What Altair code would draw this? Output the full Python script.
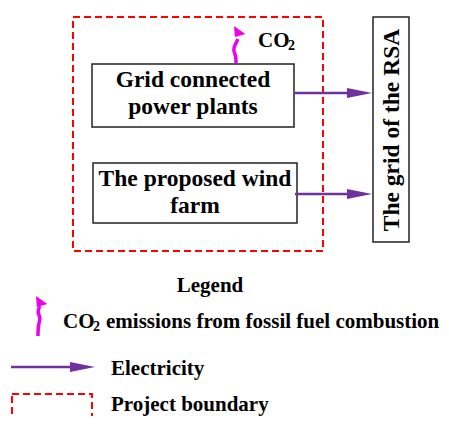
import altair as alt
import pandas as pd

# ---- diagram layout (reference pixel coordinates) ----
# dashed project-boundary rectangles
bnd_x = [73, 12]
bnd_x2 = [323, 92]
bnd_y = [17, 394]
bnd_y2 = [251, 445]

# solid boxes: power plants, wind farm, RSA grid
box_x = [92, 93, 373]
box_x2 = [294, 297, 409]
box_y = [64, 163, 17]
box_y2 = [127, 223, 242]

# electricity arrows (shaft) and heads
arr_x = [295, 295, 11]
arr_x2 = [350, 350, 72]
arr_y = [93, 194, 367]
head_x = [359.5, 359.5, 82.5]
head_y = [93, 194, 367]

# CO2 squiggles
sq_g = ["a"] * 5 + ["b"] * 5
sq_o = [0, 1, 2, 3, 4] * 2
sq_x = [236, 236, 233, 235, 238, 38, 38, 41, 37, 40]
sq_y = [63, 56, 50, 45, 39, 336, 325, 318, 312, 306]
sqh_x = [240, 42]
sqh_y = [32, 302]

# texts
big_text = ["Grid connected", "power plants", "The proposed wind", "farm"]
big_x = [193, 193, 195, 195]
big_y = [87, 114, 186, 213]

left_text = ["CO", "CO", "emissions from fossil fuel combustion", "Electricity", "Project boundary"]
left_x = [258, 63, 106, 111, 111]
left_y = [47, 328, 328, 375, 411]
sub_text = ["2", "2"]
sub_x = [288, 93]
sub_y = [50, 331]

rsa_text = ["The grid of the RSA"]
rsa_x = [399]
rsa_y = [130]

legend_text = ["Legend"]
legend_x = [210]
legend_y = [292]

FONT = "Liberation Serif"
PURPLE = "#7030A0"
MAGENTA = "#EE00EE"

xs = alt.Scale(domain=[8, 449], nice=False, zero=False)
ys = alt.Scale(domain=[8, 424], nice=False, zero=False, reverse=True)
X = lambda f: alt.X(f, type="quantitative", scale=xs, axis=None)
Y = lambda f: alt.Y(f, type="quantitative", scale=ys, axis=None)

bnd = pd.DataFrame({"x": bnd_x, "x2": bnd_x2, "y": bnd_y, "y2": bnd_y2})
box = pd.DataFrame({"x": box_x, "x2": box_x2, "y": box_y, "y2": box_y2})
arr = pd.DataFrame({"x": arr_x, "x2": arr_x2, "y": arr_y})
head = pd.DataFrame({"x": head_x, "y": head_y})
sq = pd.DataFrame({"g": sq_g, "o": sq_o, "x": sq_x, "y": sq_y})
sqh = pd.DataFrame({"x": sqh_x, "y": sqh_y})
big = pd.DataFrame({"t": big_text, "x": big_x, "y": big_y})
left = pd.DataFrame({"t": left_text, "x": left_x, "y": left_y})
sub = pd.DataFrame({"t": sub_text, "x": sub_x, "y": sub_y})
rsa = pd.DataFrame({"t": rsa_text, "x": rsa_x, "y": rsa_y})
leg = pd.DataFrame({"t": legend_text, "x": legend_x, "y": legend_y})

boundary = alt.Chart(bnd).mark_rect(
    fill="white", fillOpacity=0, stroke="#FF0000", strokeWidth=2, strokeDash=[7, 4]
).encode(x=X("x"), x2="x2", y=Y("y"), y2="y2")

boxes = alt.Chart(box).mark_rect(
    fill="white", stroke="#222222", strokeWidth=1.5
).encode(x=X("x"), x2="x2", y=Y("y"), y2="y2")

shafts = alt.Chart(arr).mark_rule(color=PURPLE, strokeWidth=2.5).encode(
    x=X("x"), x2="x2", y=Y("y")
)
heads = alt.Chart(head).mark_point(
    shape="M -1 -0.4 L 1 0 L -1 0.4 Z", filled=True, color=PURPLE, opacity=1, size=625
).encode(x=X("x"), y=Y("y"))

squig = alt.Chart(sq).mark_line(
    color=MAGENTA, strokeWidth=3.5, interpolate="basis"
).encode(x=X("x"), y=Y("y"), detail="g:N", order="o:Q")
squig_head = alt.Chart(sqh).mark_point(
    shape="M -1 -1 L 0.9 0.35 L -0.85 0.85 Z", filled=True, color=MAGENTA, opacity=1, size=144
).encode(x=X("x"), y=Y("y"))

big_t = alt.Chart(big).mark_text(
    font=FONT, fontWeight="bold", fontSize=23.5, align="center", baseline="alphabetic", color="black"
).encode(x=X("x"), y=Y("y"), text="t:N")

left_t = alt.Chart(left).mark_text(
    font=FONT, fontWeight="bold", fontSize=21, align="left", baseline="alphabetic", color="black"
).encode(x=X("x"), y=Y("y"), text="t:N")

sub_t = alt.Chart(sub).mark_text(
    font=FONT, fontWeight="bold", fontSize=14, align="left", baseline="alphabetic", color="black"
).encode(x=X("x"), y=Y("y"), text="t:N")

rsa_t = alt.Chart(rsa).mark_text(
    font=FONT, fontWeight="bold", fontSize=23.5, align="center", baseline="alphabetic",
    angle=270, color="black"
).encode(x=X("x"), y=Y("y"), text="t:N")

leg_t = alt.Chart(leg).mark_text(
    font=FONT, fontWeight="bold", fontSize=21, align="center", baseline="alphabetic", color="black"
).encode(x=X("x"), y=Y("y"), text="t:N")

chart = alt.layer(
    boundary, boxes, shafts, heads, squig, squig_head, big_t, left_t, sub_t, rsa_t, leg_t
).properties(
    width=441, height=416, autosize=alt.AutoSizeParams(type="none"),
    padding={"left": 0, "top": 0, "right": -8, "bottom": -8},
    background="white"
).configure_view(stroke=None)

chart.save("out.html", embed_options={"renderer": "svg", "actions": False})
